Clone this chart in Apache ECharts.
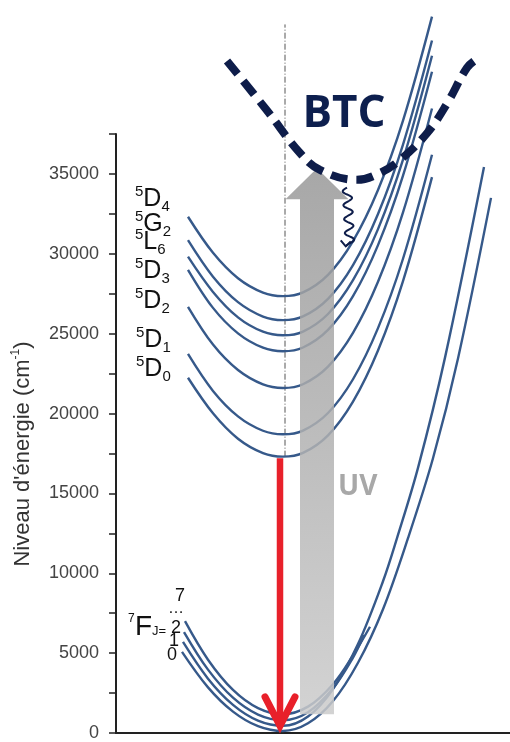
<!DOCTYPE html>
<html><head><meta charset="utf-8">
<script src="https://cdn.jsdelivr.net/npm/echarts@6/dist/echarts.min.js"></script>
<style>html,body{margin:0;padding:0;background:#fff}#c{width:510px;height:742px}</style>
</head><body><div id="c"></div>
<script>
// ---- data (configuration coordinate in arbitrary units, energy in cm^-1) ----
const yTickLabels = [0, 5000, 10000, 15000, 20000, 25000, 30000, 35000];

// excited states 5D0..5D4 (shared sampling positions)
const excitedQ = [72, 97, 122, 147, 167, 187, 212, 237, 262, 287, 316];
const E_5D0 = [22240, 20015, 18422, 17522, 17300, 17533, 18633, 20747, 23945, 28290, 34800];
const E_5D1 = [23730, 21415, 19822, 18922, 18700, 18933, 20033, 22147, 25345, 29690, 36200];
const E_5D2 = [26680, 24315, 22722, 21822, 21600, 21833, 22933, 25047, 28245, 32590, 39100];
const E_5D3 = [29000, 26615, 25022, 24122, 23900, 24133, 25233, 27347, 30545, 34890, 41400];
const E_5L6 = [29820, 27615, 26022, 25122, 24900, 25133, 26233, 28347, 31545, 35890, 42400];
const E_5G2 = [30850, 28565, 26972, 26072, 25850, 26083, 27183, 29297, 32495, 36840, 43350];
const E_5D4 = [32320, 30065, 28472, 27572, 27350, 27583, 28683, 30797, 33995, 38340, 44850];

// ground state 7FJ curves
const Q_7F0 = [66, 92, 117, 142, 167, 192, 217, 242, 267, 292, 317, 342, 375];
const E_7F0 = [5080, 2858, 1339, 428, 124, 605, 2000, 4400, 7750, 12200, 17200, 23450, 33500];
const Q_7F1 = [67, 92, 117, 142, 167, 192, 217, 242, 267, 281, 302, 329, 368];
const E_7F1 = [5700, 3403, 1763, 778, 450, 1031, 2750, 5570, 9500, 12200, 16600, 23500, 35440];
const Q_7F2 = [68, 92, 117, 142, 167, 192, 217, 237, 248];
const E_7F2 = [6320, 3967, 2208, 1152, 800, 1300, 2800, 4720, 6130];
const Q_7F3 = [69, 92, 117, 142, 167, 192, 217, 237, 254];
const E_7F3 = [7000, 4589, 2695, 1559, 1180, 1650, 3055, 4855, 6650];

// charge transfer band (BTC)
const btcQ = [111, 151, 184, 204, 241, 264, 284, 311, 331, 351, 361];
const btcE = [42070, 38970, 36310, 35250, 34630, 35060, 35870, 37550, 39400, 41650, 42190];

// vertical reference line, transitions: [q, fromE, toE]
const refLine = [169, 17300, 44360];
const uvExcitation = [201, 1177, 35360];
const redEmission = [164, 17200, 450];
const relaxation = [231, 34140, 234, 30480];

// ---- chart ----
const chart = echarts.init(document.getElementById('c'), null, {renderer: 'canvas'});
const CURVE = '#36598a';
const SANS = 'Liberation Sans, Arial, sans-serif';

function curve(name, q, e) {
  return {type: 'line', name, data: q.map((x, i) => [x, e[i]]), smooth: 0.35,
    symbol: 'none', clip: false, silent: true, z: 2, lineStyle: {color: CURVE, width: 2.4}};
}

const series = [
  {type: 'line', data: [[refLine[0], refLine[1]], [refLine[0], refLine[2]]], symbol: 'none', clip: false, z: 1,
    lineStyle: {color: '#555', width: 1, type: [6, 2, 1, 2]}},
  curve('5D0', excitedQ, E_5D0), curve('5D1', excitedQ, E_5D1), curve('5D2', excitedQ, E_5D2),
  curve('5D3', excitedQ, E_5D3), curve('5L6', excitedQ, E_5L6), curve('5G2', excitedQ, E_5G2),
  curve('5D4', excitedQ, E_5D4),
  curve('7F0', Q_7F0, E_7F0), curve('7F1', Q_7F1, E_7F1), curve('7F2', Q_7F2, E_7F2), curve('7F3', Q_7F3, E_7F3),
  {type: 'custom', clip: false, z: 3, silent: true, data: [uvExcitation], encode: {x: 0, y: [1, 2]},
    renderItem(p, api) {
      const b = api.coord([api.value(0), api.value(1)]);
      const t = api.coord([api.value(0), api.value(2)]);
      const sw = 17, hw = 31.5, hh = 31;
      return {type: 'polygon', shape: {points: [[b[0]-sw, b[1]], [b[0]-sw, t[1]+hh], [b[0]-hw, t[1]+hh], [t[0], t[1]],
        [b[0]+hw, t[1]+hh], [b[0]+sw, t[1]+hh], [b[0]+sw, b[1]]]},
        style: {fill: new echarts.graphic.LinearGradient(0, 0, 0, 1, [{offset: 0, color: '#989898'}, {offset: 1, color: '#cbcbcb'}]), opacity: 0.85}};
    }},
  {type: 'custom', clip: false, z: 4, silent: true, data: [redEmission], encode: {x: 0, y: [1, 2]},
    renderItem(p, api) {
      const s = api.coord([api.value(0), api.value(1)]);
      const t = api.coord([api.value(0), api.value(2)]);
      return {type: 'group', children: [
        {type: 'line', shape: {x1: s[0], y1: s[1], x2: t[0], y2: t[1]-6}, style: {stroke: '#e8202a', lineWidth: 6.5}},
        {type: 'polyline', shape: {points: [[t[0]-15, t[1]-29], [t[0], t[1]], [t[0]+15, t[1]-29]]},
          style: {stroke: '#e8202a', lineWidth: 7, lineCap: 'round', lineJoin: 'miter', fill: null}}
      ]};
    }},
  {type: 'line', data: btcQ.map((x, i) => [x, btcE[i]]), smooth: 0.4, symbol: 'none', clip: false, z: 6, silent: true,
    lineStyle: {color: '#0e1d4a', width: 8, type: [17, 9], cap: 'butt'}},
  {type: 'custom', clip: false, z: 6, silent: true, data: [relaxation], encode: {x: [0, 2], y: [1, 3]},
    renderItem(p, api) {
      const a = api.coord([api.value(0), api.value(1)]);
      const b = api.coord([api.value(2), api.value(3)]);
      const dx = b[0]-a[0], dy = b[1]-a[1], L = Math.hypot(dx, dy), ux = dx/L, uy = dy/L;
      const pts = [];
      for (let i = 0; i <= 80; i++) {
        const t = i/80, off = 4.5*Math.sin(2*Math.PI*4.2*t);
        pts.push([a[0]+dx*t - uy*off, a[1]+dy*t + ux*off]);
      }
      const e = pts[pts.length-1];
      return {type: 'group', children: [
        {type: 'polyline', shape: {points: pts}, style: {stroke: '#0e1d4a', lineWidth: 2, fill: null}},
        {type: 'polyline', shape: {points: [[e[0]-5, e[1]-6], [e[0], e[1]], [e[0]+5, e[1]-5]]}, style: {stroke: '#0e1d4a', lineWidth: 2, fill: null}}
      ]};
    }}
];

function stateLabel(sup, main, sub, x, y) {
  return {type: 'text', x, y, z: 10, style: {text: '{a|' + sup + '}{b|' + main + '}{c|' + sub + '}', align: 'left', verticalAlign: 'middle',
    rich: {a: {fontSize: 15, fontFamily: SANS, fill: '#111', verticalAlign: 'top'},
           b: {fontSize: 25, fontFamily: SANS, fill: '#111', lineHeight: 30, verticalAlign: 'middle'},
           c: {fontSize: 15, fontFamily: SANS, fill: '#111', verticalAlign: 'bottom'}}}};
}
function txt(text, x, y, size, opts) {
  return {type: 'text', x, y, z: 10, style: Object.assign({text, fontSize: size, fontFamily: SANS, fill: '#111', align: 'left', verticalAlign: 'middle'}, opts || {})};
}

const graphic = [
  {type: 'text', x: 23, y: 454, rotation: Math.PI / 2, z: 10,
    style: {text: "Niveau d'énergie (cm{s|-1})", align: 'center', verticalAlign: 'middle', fontSize: 22, fontFamily: SANS, fill: '#333',
      rich: {s: {fontSize: 12, fontFamily: SANS, fill: '#333', verticalAlign: 'top', lineHeight: 26}}}},
  stateLabel('5', 'D', '4', 135, 199),
  stateLabel('5', 'G', '2', 135, 224),
  stateLabel('5', 'L', '6', 135, 242.5),
  stateLabel('5', 'D', '3', 135, 271),
  stateLabel('5', 'D', '2', 135, 301.5),
  stateLabel('5', 'D', '1', 136, 340.5),
  stateLabel('5', 'D', '0', 136, 369),
  txt('7', 128, 619, 12),
  txt('F', 135, 627, 28),
  txt('J=', 152, 631, 13),
  txt('7', 180, 596.5, 18, {align: 'center'}),
  txt('…', 176, 609, 16, {align: 'center'}),
  txt('2', 176, 628.5, 18, {align: 'center'}),
  txt('1', 174, 641.5, 18, {align: 'center'}),
  txt('0', 172, 655, 18, {align: 'center'}),
  txt('BTC', 344, 114, 44, {align: 'center', fontFamily: 'Open Sans', fontWeight: 'bold', fill: '#0d1f4e'}),
  txt('UV', 338, 487, 28, {fontFamily: 'Open Sans', fontWeight: 'bold', fill: '#a8a8a8'})
];

chart.setOption({
  animation: false,
  backgroundColor: '#fff',
  grid: {left: 116, right: 0, top: 134, bottom: 3},
  xAxis: {type: 'value', min: 0, max: 394, axisLine: {show: true, onZero: false, lineStyle: {color: '#222', width: 2}},
    axisTick: {show: false}, axisLabel: {show: false}, splitLine: {show: false}},
  yAxis: {type: 'value', min: 0, max: 37500, interval: 2500,
    axisLine: {show: true, lineStyle: {color: '#222', width: 2}},
    axisTick: {show: true, length: 7, lineStyle: {color: '#222', width: 1.5}},
    axisLabel: {margin: 17, fontFamily: SANS, fontSize: 18, color: '#444', formatter: v => yTickLabels.includes(v) ? String(v) : ''},
    splitLine: {show: false}},
  series,
  graphic
});
</script></body></html>
